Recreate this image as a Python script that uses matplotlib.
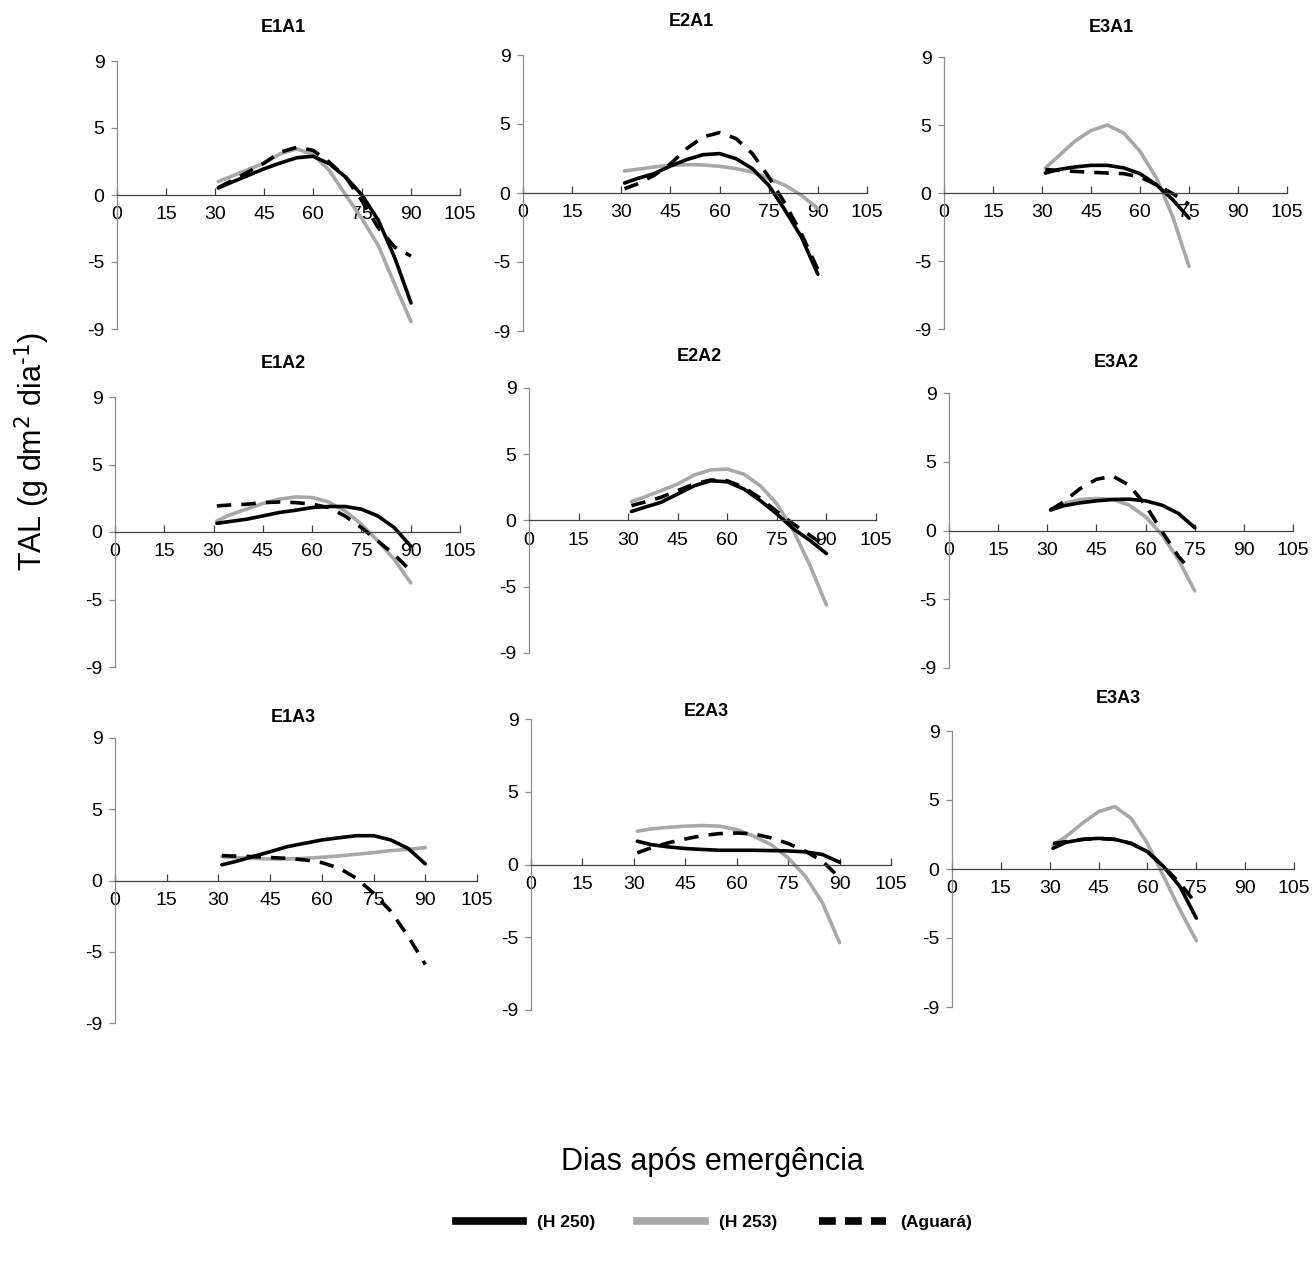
import numpy as np
import matplotlib
matplotlib.use("Agg")
import matplotlib.pyplot as plt
from matplotlib.lines import Line2D

plt.rcParams['font.family'] = ['Liberation Sans', 'DejaVu Sans']

# Days after emergence
dias_90 = [31, 35, 40, 45, 50, 55, 60, 65, 70, 75, 80, 85, 90]
dias_75 = [31, 35, 40, 45, 50, 55, 60, 65, 70, 75]
dias_72 = [31, 35, 40, 45, 50, 55, 60, 65, 70, 72]

# TAL values per treatment (H 250, H 253, Aguará)
e1a1_h250 = [0.47, 0.85, 1.3, 1.76, 2.15, 2.5, 2.6, 2.1, 1.2, 0.0, -1.7, -4.2, -7.25]
e1a1_h253 = [0.9, 1.25, 1.7, 2.14, 2.77, 3.1, 2.72, 1.64, 0.0, -1.6, -3.4, -6.0, -8.5]
e1a1_agua = [0.5, 0.95, 1.53, 2.14, 2.88, 3.2, 3.0, 2.2, 1.2, -0.4, -2.2, -3.5, -4.1]

e2a1_h250 = [0.65, 0.95, 1.26, 1.76, 2.18, 2.5, 2.57, 2.24, 1.59, 0.5, -1.13, -2.88, -5.3]
e2a1_h253 = [1.44, 1.55, 1.7, 1.8, 1.85, 1.83, 1.74, 1.59, 1.37, 0.94, 0.5, -0.15, -1.02]
e2a1_agua = [0.28, 0.6, 1.15, 1.9, 2.9, 3.66, 3.94, 3.55, 2.57, 1.05, -0.7, -2.66, -5.0]

e3a1_h250 = [1.32, 1.55, 1.72, 1.83, 1.83, 1.66, 1.28, 0.55, -0.44, -1.66]
e3a1_h253 = [1.65, 2.43, 3.42, 4.13, 4.5, 3.97, 2.76, 1.0, -1.55, -4.86]
e3a1_agua = [1.55, 1.5, 1.43, 1.37, 1.32, 1.28, 1.06, 0.55, -0.04, -0.75]

e1a2_h250 = [0.58, 0.7, 0.85, 1.07, 1.3, 1.45, 1.63, 1.7, 1.7, 1.52, 1.07, 0.29, -0.94]
e1a2_h253 = [0.74, 1.15, 1.52, 1.9, 2.19, 2.34, 2.3, 2.0, 1.41, 0.51, -0.6, -1.83, -3.39]
e1a2_agua = [1.74, 1.8, 1.85, 1.96, 2.0, 1.96, 1.85, 1.63, 1.07, 0.29, -0.6, -1.5, -2.6]

e2a2_h250 = [0.61, 0.9, 1.24, 1.8, 2.36, 2.7, 2.63, 2.14, 1.35, 0.45, -0.56, -1.35, -2.25]
e2a2_h253 = [1.28, 1.6, 2.03, 2.48, 3.09, 3.44, 3.49, 3.15, 2.36, 1.13, -0.68, -3.04, -5.74]
e2a2_agua = [1.01, 1.25, 1.58, 2.03, 2.48, 2.75, 2.7, 2.25, 1.51, 0.61, -0.23, -1.01, -1.8]

e3a2_h250 = [1.34, 1.62, 1.81, 1.94, 2.03, 2.05, 1.94, 1.66, 1.12, 0.19]
e3a2_h253 = [1.4, 1.77, 2.03, 2.1, 2.03, 1.66, 0.9, -0.28, -1.9, -3.95]
e3a2_agua = [1.34, 1.88, 2.74, 3.35, 3.56, 2.96, 1.66, -0.06, -1.68, -2.18]

e1a3_h250 = [0.99, 1.2, 1.51, 1.82, 2.14, 2.35, 2.56, 2.7, 2.83, 2.83, 2.56, 2.03, 1.05]
e1a3_h253 = [1.51, 1.45, 1.4, 1.36, 1.36, 1.4, 1.47, 1.55, 1.66, 1.76, 1.89, 1.97, 2.08]
e1a3_agua = [1.57, 1.54, 1.51, 1.45, 1.4, 1.3, 1.13, 0.78, 0.15, -0.8, -1.95, -3.52, -5.3]

e2a3_h250 = [1.44, 1.23, 1.09, 0.99, 0.93, 0.88, 0.88, 0.88, 0.86, 0.84, 0.78, 0.62, 0.14]
e2a3_h253 = [2.06, 2.2, 2.3, 2.37, 2.41, 2.37, 2.16, 1.75, 1.23, 0.41, -0.72, -2.37, -4.84]
e2a3_agua = [0.72, 1.03, 1.34, 1.58, 1.79, 1.91, 1.95, 1.89, 1.65, 1.3, 0.82, 0.21, -0.82]

e3a3_h250 = [1.35, 1.74, 1.93, 2.0, 1.93, 1.67, 1.13, 0.15, -1.15, -3.2]
e3a3_h253 = [1.57, 2.11, 2.98, 3.74, 4.07, 3.3, 1.67, -0.5, -2.67, -4.67]
e3a3_agua = [1.67, 1.78, 1.93, 2.0, 1.93, 1.67, 1.13, 0.15, -0.93, -2.28]

x_ticks = [0, 15, 30, 45, 60, 75, 90, 105]
y_ticks = [-9, -4.5, 0, 4.5, 9]
y_tick_labels = ['-9', '-5', '0', '5', '9']

W, H = 1312, 1262

# panel: title, box in pixels (left, top, right, bottom), title xy, series
panels = [
    ('E1A1', (117, 61, 460, 329), (283, 27),
     (dias_90, e1a1_h250), (dias_90, e1a1_h253), (dias_90, e1a1_agua)),
    ('E2A1', (523, 55, 867, 331), (691, 22),
     (dias_90, e2a1_h250), (dias_90, e2a1_h253), (dias_90, e2a1_agua)),
    ('E3A1', (944, 57, 1287, 329), (1111, 27),
     (dias_75, e3a1_h250), (dias_75, e3a1_h253), (dias_75, e3a1_agua)),
    ('E1A2', (115, 397, 460, 667), (283, 364),
     (dias_90, e1a2_h250), (dias_90, e1a2_h253), (dias_90, e1a2_agua)),
    ('E2A2', (529, 388, 876, 653), (699, 357),
     (dias_90, e2a2_h250), (dias_90, e2a2_h253), (dias_90, e2a2_agua)),
    ('E3A2', (949, 393, 1293, 668), (1116, 362),
     (dias_75, e3a2_h250), (dias_75, e3a2_h253), (dias_72, e3a2_agua)),
    ('E1A3', (115, 738, 477, 1023), (293, 718),
     (dias_90, e1a3_h250), (dias_90, e1a3_h253), (dias_90, e1a3_agua)),
    ('E2A3', (531, 719, 891, 1010), (706, 712),
     (dias_90, e2a3_h250), (dias_90, e2a3_h253), (dias_90, e2a3_agua)),
    ('E3A3', (952, 731, 1294, 1007), (1118, 698),
     (dias_75, e3a3_h250), (dias_75, e3a3_h253), (dias_75, e3a3_agua)),
]

BLACK = '#000000'
GRAY = '#a8a8a8'
LW = 2.6
DASH = (4.0, 2.8)

fig = plt.figure(figsize=(W / 100, H / 100), dpi=100)
fig.patch.set_facecolor('white')

for title, (l, t, r, b), (tx, ty), s250, s253, sagua in panels:
    ax = fig.add_axes([l / W, 1 - b / H, (r - l) / W, (b - t) / H])
    ax.plot(s253[0], s253[1], color=GRAY, lw=LW, solid_capstyle='round',
            solid_joinstyle='round')
    ax.plot(s250[0], s250[1], color=BLACK, lw=LW, solid_capstyle='round',
            solid_joinstyle='round')
    ax.plot(sagua[0], sagua[1], color=BLACK, lw=LW, dashes=DASH)

    ax.set_xlim(0, 105)
    ax.set_ylim(-9, 9)
    ax.spines['top'].set_visible(False)
    ax.spines['right'].set_visible(False)
    ax.spines['bottom'].set_position(('data', 0))
    ax.spines['bottom'].set_color('#404040')
    ax.spines['left'].set_color('#8c8c8c')
    ax.spines['bottom'].set_linewidth(0.9)
    ax.spines['left'].set_linewidth(0.9)

    ax.set_xticks(x_ticks)
    ax.set_xticklabels([str(v) for v in x_ticks])
    ax.set_yticks(y_ticks)
    ax.set_yticklabels(y_tick_labels)
    ax.tick_params(axis='x', direction='in', length=5, width=0.9,
                   color='#404040', pad=8, labelsize=14)
    ax.tick_params(axis='y', direction='out', length=4, width=0.9,
                   color='#8c8c8c', pad=5, labelsize=14)
    ax.patch.set_alpha(0)

    fig.text(tx / W, 1 - ty / H, title, ha='center', va='center',
             fontsize=13, fontweight='bold')

fig.text(32 / W, 1 - 451 / H, 'TAL (g dm$^{2}$ dia$^{\\text{-}1}$)',
         rotation=90, ha='center', va='center', fontsize=22)
fig.text(712 / W, 1 - 1162 / H, 'Dias após emergência', ha='center',
         va='center', fontsize=22)

handles = [
    Line2D([], [], color=BLACK, lw=5.5),
    Line2D([], [], color=GRAY, lw=5.5),
    Line2D([], [], color=BLACK, lw=5.5, dashes=(2.2, 1.2)),
]
fig.legend(handles, ['(H 250)', '(H 253)', '(Aguará)'],
           loc='center', bbox_to_anchor=(714 / W, 1 - 1222 / H), ncol=3,
           frameon=False, handlelength=3.9, handletextpad=0.8,
           columnspacing=2.4,
           prop={'family': ['Liberation Sans'], 'weight': 'bold',
                 'size': 12.5})

fig.savefig('out.png', dpi=100, facecolor='white')
